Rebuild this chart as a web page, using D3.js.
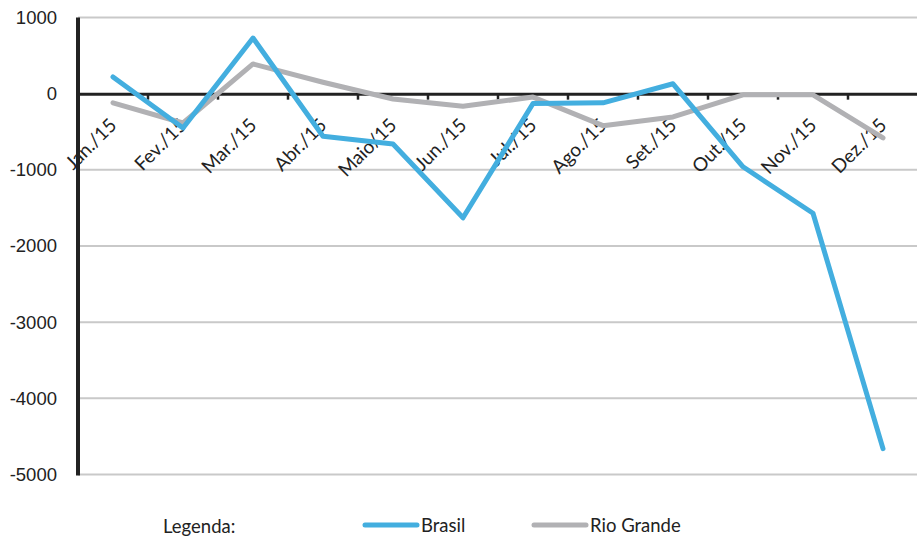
<!DOCTYPE html>
<html>
<head>
<meta charset="utf-8">
<script src="https://cdn.jsdelivr.net/npm/d3@7"></script>
<style>
  html, body { margin: 0; padding: 0; background: #fff; overflow: hidden; }
  svg { display: block; }
</style>
</head>
<body>
<svg id="chart" width="917" height="536"></svg>
<script>
const months = ["Jan./15","Fev./15","Mar./15","Abr./15","Maio/15","Jun./15","Jul./15","Ago./15","Set./15","Out./15","Nov./15","Dez./15"];
const brasil = [220, -450, 730, -560, -660, -1630, -130, -120, 130, -960, -1570, -4660];
const rioGrande = [-120, -385, 390, 150, -70, -165, -45, -420, -305, -15, -15, -580];
const yTicks = [1000, 0, -1000, -2000, -3000, -4000, -5000];
const seriesNames = ["Brasil", "Rio Grande"];
const seriesColors = ["#43aedf", "#b1b1b4"];

const svg = d3.select("#chart");
const mLeft = 78, mRight = 918, mTop = 17.5, mBottom = 474.5;

const x = d3.scaleBand().domain(months).range([mLeft, mRight]);
const y = d3.scaleLinear().domain([-5000, 1000]).range([mBottom, mTop]);

// gridlines
svg.append("g").selectAll("line").data(yTicks.filter(d => d !== 0)).join("line")
  .attr("x1", mLeft).attr("x2", 917)
  .attr("y1", d => y(d)).attr("y2", d => y(d))
  .attr("stroke", "#c9c9c9").attr("stroke-width", 2);

// y axis labels
const yAxis = d3.axisLeft(y).tickValues(yTicks).tickSize(0).tickPadding(21).tickFormat(d => String(d));
const gy = svg.append("g").attr("transform", `translate(${mLeft},0)`).call(yAxis);
gy.select(".domain").remove();
gy.selectAll("text")
  .attr("font-family", "'Liberation Sans', Arial, sans-serif")
  .attr("font-size", "18.5px").attr("fill", "#222");

// zero line with ticks
const xAxis = d3.axisBottom(x).tickSize(0).tickFormat("");
const gx = svg.append("g").attr("transform", `translate(0,${y(0)})`).call(xAxis);
gx.select(".domain").attr("stroke", "#222").attr("stroke-width", 3);
gx.selectAll(".tick").remove();
svg.append("g").selectAll("line").data(months.slice(1)).join("line")
  .attr("x1", d => x(d)).attr("x2", d => x(d))
  .attr("y1", y(0)).attr("y2", y(0) + 6)
  .attr("stroke", "#222").attr("stroke-width", 2.5);

// y axis line
svg.append("line").attr("x1", mLeft).attr("x2", mLeft)
  .attr("y1", mTop).attr("y2", mBottom + 1)
  .attr("stroke", "#222").attr("stroke-width", 4);

// x labels
svg.append("g").selectAll("text").data(months).join("text")
  .attr("transform", d => `translate(${x(d) + x.bandwidth() / 2},${y(0) + 28}) rotate(-45)`)
  .attr("text-anchor", "end")
  .attr("dy", "0.35em")
  .attr("font-family", "Lato, 'Open Sans', sans-serif")
  .attr("font-size", "19px").attr("fill", "#222")
  .text(d => d);

// lines
const line = d3.line().x((d, i) => x(months[i]) + x.bandwidth() / 2).y(d => y(d));
[rioGrande, brasil].forEach((s, k) => {
  const idx = k === 0 ? 1 : 0;
  svg.append("path").datum(s)
    .attr("d", line)
    .attr("fill", "none")
    .attr("stroke", seriesColors[idx])
    .attr("stroke-width", 5)
    .attr("stroke-linejoin", "round")
    .attr("stroke-linecap", "round");
});

// legend
const lg = svg.append("g").attr("font-family", "Lato, 'Open Sans', sans-serif").attr("font-size", "18.5px").attr("fill", "#222");
lg.append("text").attr("x", 163).attr("y", 533).text("Legenda:");
const legX = [365, 534];
seriesNames.forEach((n, i) => {
  lg.append("line").attr("x1", legX[i]).attr("x2", legX[i] + 52)
    .attr("y1", 525).attr("y2", 525)
    .attr("stroke", seriesColors[i]).attr("stroke-width", 5).attr("stroke-linecap", "round");
  lg.append("text").attr("x", legX[i] + 56).attr("y", 532).text(n);
});
</script>
</body>
</html>
